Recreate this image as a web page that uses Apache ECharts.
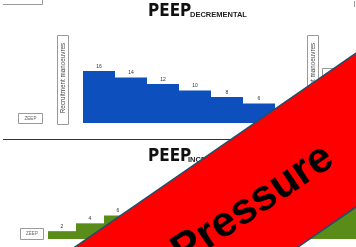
<!DOCTYPE html>
<html>
<head>
<meta charset="utf-8">
<script src="https://cdn.jsdelivr.net/npm/echarts@6/dist/echarts.min.js"></script>
<style>
    html, body { margin: 0; padding: 0; background: #fff; }
    #chart { width: 356px; height: 247px; }
</style>
</head>
<body>
<div id="chart"></div>
<script>
    // 递减 PEEP 步骤
    let decSteps = ['1', '2', '3', '4', '5', '6', '7']
    let decValues = [16, 14, 12, 10, 8, 6, 4]
    // 递增 PEEP 步骤
    let incSteps = ['1', '2', '3', '4', '5', '6', '7', '8', '9', '10', '11']
    let incValues = [2, 4, 6, 8, 10, 12, 14, 16, 18, 20, 22]

    let blue = '#0c4fbd',
        green = '#5a8c1a',
        boxGray = '#9a9a9a'

    let chart = echarts.init(document.getElementById('chart'))

    let barLabel = {
        show: true,
        position: 'top',
        distance: 2,
        fontSize: 5,
        color: '#333',
        fontFamily: 'Liberation Sans'
    }

    function box(x, y, w, h) {
        return {
            type: 'rect',
            shape: {x: x, y: y, width: w, height: h},
            style: {fill: 'none', stroke: boxGray, lineWidth: 1}
        }
    }

    function txt(x, y, text, size, opts) {
        return Object.assign({
            type: 'text',
            x: x,
            y: y,
            style: Object.assign({
                text: text,
                fontSize: size,
                fontFamily: 'Liberation Sans',
                fill: '#444',
                align: 'center',
                verticalAlign: 'middle'
            }, opts && opts.style)
        }, opts && opts.el)
    }

    // 斜条幅
    let k = 0.69
    let upper = x => 247 - k * (x - 75),
        lower = x => 207 + k * (356 - x)

    let option = {
        animation: false,
        grid: [
            {left: 83, top: 58, width: 224, height: 65},
            {left: 48, top: 145, width: 319, height: 94}
        ],
        xAxis: [
            {type: 'category', gridIndex: 0, data: decSteps, show: false},
            {type: 'category', gridIndex: 1, data: incSteps, show: false}
        ],
        yAxis: [
            {type: 'value', gridIndex: 0, min: 0, max: 20, show: false},
            {type: 'value', gridIndex: 1, min: 0, max: 24, show: false}
        ],
        series: [
            {
                type: 'bar', xAxisIndex: 0, yAxisIndex: 0,
                data: decValues, barCategoryGap: 0,
                itemStyle: {color: blue}, label: barLabel
            },
            {
                type: 'bar', xAxisIndex: 1, yAxisIndex: 1,
                data: incValues, barCategoryGap: 0,
                itemStyle: {color: green}, label: barLabel
            }
        ],
        graphic: [
            // 角落的框
            {
                type: 'polyline',
                shape: {points: [[3, 4.5], [42.5, 4.5], [42.5, 0]]},
                style: {stroke: boxGray, lineWidth: 1, fill: 'none'}
            },
            {
                type: 'line',
                shape: {x1: 354.5, y1: 1, x2: 354.5, y2: 7},
                style: {stroke: boxGray, lineWidth: 1}
            },
            box(322.5, 68.5, 40, 60),

            // 标题
            txt(148, 11.5, 'PEEP', 17, {style: {align: 'left', fill: '#111', fontWeight: 'bold', fontFamily: 'Liberation Sans Narrow, DejaVu Sans Condensed, sans-serif'}}),
            txt(190, 14.5, 'DECREMENTAL', 7.5, {style: {align: 'left', fill: '#222', fontWeight: 'bold'}}),
            txt(148, 156.5, 'PEEP', 17, {style: {align: 'left', fill: '#111', fontWeight: 'bold', fontFamily: 'Liberation Sans Narrow, DejaVu Sans Condensed, sans-serif'}}),
            txt(188, 159.5, 'INCREMENTAL', 7.5, {style: {align: 'left', fill: '#222', fontWeight: 'bold'}}),

            // ZEEP 框
            box(18.5, 113.5, 24, 10),
            txt(30.5, 118.5, 'ZEEP', 4.5, {style: {fill: '#666'}}),
            box(20.5, 228.5, 23, 11),
            txt(32, 234, 'ZEEP', 4.5, {style: {fill: '#666'}}),

            // 复张手法框
            box(57.5, 35.5, 11, 89),
            txt(63, 78, 'Recruitment manoeuvres', 6.3, {el: {rotation: Math.PI / 2}}),
            box(307.5, 35.5, 11, 89),
            txt(313, 78, 'Recruitment manoeuvres', 6.3, {el: {rotation: Math.PI / 2}}),

            // 分隔线
            {
                type: 'line',
                shape: {x1: 3, y1: 139.5, x2: 300, y2: 139.5},
                style: {stroke: '#333', lineWidth: 1.2}
            },

            // 红色条幅
            {
                type: 'polygon',
                z: 100,
                shape: {points: [[40, upper(40)], [380, upper(380)], [380, lower(380)], [260, lower(260)]]},
                style: {fill: '#ff0000', stroke: '#1d4f6e', lineWidth: 1.5}
            },
            {
                type: 'text',
                z: 101,
                x: 253,
                y: 205,
                rotation: 0.59,
                style: {
                    text: 'Pressure',
                    fontSize: 43,
                    fontWeight: 'bold',
                    fontFamily: 'Liberation Sans',
                    fill: '#000',
                    align: 'center',
                    verticalAlign: 'middle'
                }
            }
        ]
    }

    chart.setOption(option)
</script>
</body>
</html>
